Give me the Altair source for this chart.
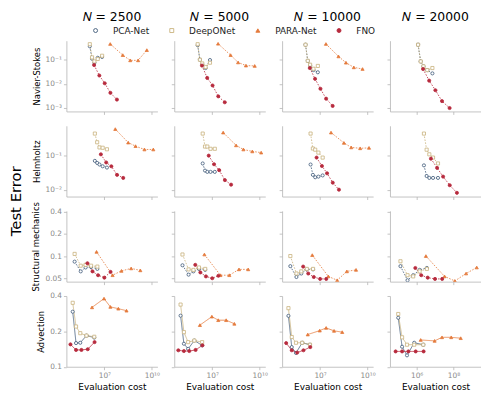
import altair as alt
import pandas as pd

problems = ["Navier-Stokes", "Helmholtz", "Structural mechanics", "Advection"]
sizes = [2500, 5000, 10000, 20000]
models = ["PCA-Net", "DeepONet", "PARA-Net", "FNO"]
colors = ["#3d5877", "#c9b27c", "#e47a3c", "#b72a3d"]
fills = ["#ffffff", "#ffffff", "#e47a3c", "#b72a3d"]
shapes = ["circle", "square", "triangle-up", "circle"]

# evaluation cost of each network size (same for every training-set size)
cost = {
    "Navier-Stokes": {
        "PCA-Net": [1.2e6, 1.66e6, 2.34e6, 3.8e6, 7.2e6],
        "DeepONet": [1.2e6, 1.66e6, 2.34e6, 3.8e6, 7.2e6],
        "PARA-Net": [2.34e7, 1.45e8, 4.3e8, 1.35e9, 4.8e9],
        "FNO": [2.24e6, 4.8e6, 1.05e7, 2.4e7, 6.2e7],
    },
    "Helmholtz": {
        "PCA-Net": [2.5e6, 3.5e6, 4.9e6, 7.8e6, 1.45e7],
        "DeepONet": [2.5e6, 3.5e6, 4.9e6, 7.8e6, 1.45e7],
        "PARA-Net": [4.9e7, 3.2e8, 9.3e8, 3.4e9, 1.23e10],
        "FNO": [6.0e6, 1.3e7, 2.75e7, 6.3e7, 1.55e8],
    },
    "Structural mechanics": {
        "PCA-Net": [1.32e5, 3.2e5, 6.5e5, 1.45e6, 3.6e6],
        "DeepONet": [1.32e5, 3.2e5, 6.5e5, 1.45e6, 3.6e6],
        "PARA-Net": [3.2e6, 3.3e7, 1.2e8, 4.9e8, 1.86e9],
        "FNO": [8.5e5, 1.78e6, 4.0e6, 1.0e7, 2.45e7],
    },
    "Advection": {
        "PCA-Net": [1.0e5, 1.62e5, 3.0e5, 7.4e5, 2.3e6],
        "DeepONet": [1.0e5, 1.62e5, 3.0e5, 7.4e5, 2.3e6],
        "PARA-Net": [1.66e6, 9.5e6, 2.4e7, 7.6e7, 2.5e8],
        "FNO": [7.2e4, 1.62e5, 3.55e5, 8.9e5, 2.4e6],
    },
}

# test error, one list per training-set size N = 2500, 5000, 10000, 20000
error = {
    "Navier-Stokes": {
        "PCA-Net": [[0.36, 0.11, 0.075, 0.12, 0.13], [0.40, 0.10, 0.065, 0.045, 0.097],
                    [0.42, 0.09, 0.057, 0.037, 0.030], [0.42, 0.085, 0.053, 0.037, 0.027]],
        "DeepONet": [[0.44, 0.125, 0.085, 0.107, 0.146], [0.44, 0.10, 0.07, 0.05, 0.075],
                     [0.42, 0.09, 0.062, 0.042, 0.055], [0.42, 0.085, 0.053, 0.037, 0.045]],
        "PARA-Net": [[0.45, 0.155, 0.094, 0.094, 0.25], [0.46, 0.155, 0.077, 0.057, 0.055],
                     [0.45, 0.137, 0.075, 0.048, 0.041], None],
        "FNO": [[0.06, 0.022, 0.0105, 0.0042, 0.0022], [0.057, 0.0175, 0.0085, 0.003, 0.0017],
                [0.045, 0.016, 0.0062, 0.0024, 0.0012], [0.041, 0.0135, 0.0054, 0.0019, 0.00098]],
    },
    "Helmholtz": {
        "PCA-Net": [[0.069, 0.06, 0.054, 0.048, 0.044], [0.058, 0.036, 0.033, 0.033, 0.033],
                    [0.054, 0.027, 0.023, 0.024, 0.026], [0.051, 0.025, 0.022, 0.022, 0.022]],
        "DeepONet": [[0.43, 0.24, 0.17, 0.166, 0.15], [0.43, 0.18, 0.18, 0.155, 0.155],
                     [0.43, 0.158, 0.146, 0.12, 0.086], [0.43, 0.146, 0.107, 0.086, 0.058]],
        "PARA-Net": [[0.58, 0.235, 0.185, 0.148, 0.148], [0.46, 0.195, 0.148, 0.13, 0.12],
                     [0.46, 0.23, 0.17, 0.16, 0.165], None],
        "FNO": [[0.107, 0.062, 0.048, 0.027, 0.022], [0.098, 0.055, 0.037, 0.019, 0.014],
                [0.086, 0.049, 0.03, 0.016, 0.01], [0.08, 0.043, 0.024, 0.0135, 0.0081]],
    },
    "Structural mechanics": {
        "PCA-Net": [[0.084, 0.062, 0.07, 0.071, 0.067], [0.075, 0.056, 0.062, 0.067, 0.065],
                    [0.073, 0.052, 0.058, 0.066, 0.066], [0.073, 0.047, 0.055, 0.065, 0.069]],
        "DeepONet": [[0.107, 0.074, 0.076, 0.074, 0.072], [0.105, 0.066, 0.065, 0.07, 0.067],
                     [0.1, 0.058, 0.062, 0.067, 0.067], [0.085, 0.055, 0.053, 0.062, 0.067]],
        "PARA-Net": [[0.114, 0.055, 0.063, 0.068, 0.064], [0.105, 0.055, 0.055, 0.066, 0.066],
                     [0.103, 0.053, 0.047, 0.062, 0.065], [0.1, 0.053, 0.046, 0.058, 0.07]],
        "FNO": [[0.08, 0.062, 0.055, 0.051, 0.061], [0.076, 0.06, 0.053, 0.05, 0.054],
                [0.072, 0.058, 0.052, 0.049, 0.049], [0.069, 0.055, 0.051, 0.049, 0.049]],
    },
    "Advection": {
        "PCA-Net": [[0.294, 0.159, 0.16, 0.184, 0.177], [0.272, 0.157, 0.142, 0.167, 0.152],
                    [0.271, 0.147, 0.131, 0.16, 0.154], [0.261, 0.148, 0.125, 0.16, 0.154]],
        "DeepONet": [[0.35, 0.22, 0.193, 0.184, 0.18], [0.338, 0.197, 0.162, 0.167, 0.162],
                     [0.315, 0.179, 0.16, 0.16, 0.154], [0.281, 0.178, 0.154, 0.154, 0.154]],
        "PARA-Net": [[0.32, 0.38, 0.323, 0.312, 0.3], [0.226, 0.267, 0.249, 0.249, 0.232],
                     [0.188, 0.203, 0.214, 0.202, 0.197], [0.169, 0.166, 0.178, 0.178, 0.175]],
        "FNO": [[0.155, 0.139, 0.139, 0.141, 0.162], [0.138, 0.136, 0.136, 0.139, 0.152],
                [0.159, 0.138, 0.132, 0.138, 0.147], [0.135, 0.135, 0.135, 0.135, 0.135]],
    },
}

rows = []
for p in problems:
    for m in models:
        for j, n in enumerate(sizes):
            errs = error[p][m][j]
            if errs is None:
                continue
            for k, (c, e) in enumerate(zip(cost[p][m], errs)):
                rows.append({"problem": p, "N": n, "model": m, "cost": c, "error": e, "k": k})
df = pd.DataFrame(rows)

x_domains = [[10 ** 4.6, 10 ** 10.35]] * 3 + [[10 ** 4.55, 10 ** 9.5]]
x_ticks = [[1e7, 1e10]] * 3 + [[1e6, 1e8]]
x_labels = [["10⁷", "10¹⁰"]] * 3 + [["10⁶", "10⁸"]]
y_domains = [[10 ** -3.15, 10 ** -0.21], [10 ** -2.2, 10 ** -0.14], [0.045, 0.41], [0.1, 0.4]]
y_ticks = [[1e-3, 1e-2, 1e-1], [1e-2, 1e-1], [0.05, 0.1, 0.2, 0.4], [0.1, 0.2, 0.4]]
y_labels = [["10⁻³", "10⁻²", "10⁻¹"], ["10⁻²", "10⁻¹"], ["0.05", "0.1", "0.2", "0.4"], ["0.1", "0.2", "0.4"]]
dashes = [[1.6, 1.4], [1.6, 1.4], [1.6, 1.4], [1, 0]]


def label_expr(vals, labs):
    s = "''"
    for v, l in reversed(list(zip(vals, labs))):
        s = f"(abs(datum.value/{v!r}-1)<1e-6) ? '{l}' : {s}"
    return s


stroke_enc = alt.Stroke("model:N", scale=alt.Scale(domain=models, range=colors),
                        legend=alt.Legend(title=None))
fill_enc = alt.Fill("model:N", scale=alt.Scale(domain=models, range=fills),
                    legend=alt.Legend(title=None))
shape_enc = alt.Shape("model:N", scale=alt.Scale(domain=models, range=shapes),
                      legend=alt.Legend(title=None))

panels = []
for i, p in enumerate(problems):
    for j, n in enumerate(sizes):
        sub = df[(df.problem == p) & (df.N == n)]
        x = alt.X("cost:Q",
                  scale=alt.Scale(type="log", domain=x_domains[j], nice=False),
                  axis=alt.Axis(values=x_ticks[j], labels=(i == 3),
                                labelExpr=label_expr(x_ticks[j], x_labels[j]),
                                title="Evaluation cost" if i == 3 else None))
        y = alt.Y("error:Q",
                  scale=alt.Scale(type="log", domain=y_domains[i], nice=False),
                  axis=alt.Axis(values=y_ticks[i], labels=(j == 0),
                                labelExpr=label_expr(y_ticks[i], y_labels[i]),
                                title=p if j == 0 else None))
        base = alt.Chart(sub)
        line = base.mark_line(strokeWidth=0.8, strokeDash=dashes[i], clip=True).encode(
            x=x, y=y, stroke=stroke_enc, order="k:Q")
        pts = base.mark_point(filled=True, size=10, strokeWidth=0.8, opacity=1, clip=True).encode(
            x=x, y=y, stroke=stroke_enc, fill=fill_enc, shape=shape_enc)
        ch = alt.layer(line, pts).properties(width=92, height=71.5)
        if i == 0:
            ch = ch.properties(title=alt.TitleParams(f"𝑁 = {n}", fontWeight=400))
        panels.append(ch)

chart = alt.concat(
    *panels, columns=4, spacing=alt.RowColnumber(row=14, column=17), align="each",
    bounds="flush",
).properties(
    title=alt.TitleParams("Test Error", orient="left", anchor="middle", fontSize=15,
                          fontWeight="normal", font="DejaVu Sans", color="black", offset=8),
    padding={"left": 1, "top": 1, "right": 0, "bottom": 0},
).configure_view(stroke=None).configure_axis(
    domainColor="#b4b4b4", tickColor="#b4b4b4", labelColor="#8a8a8a", labelFontSize=7.5,
    tickSize=3, grid=False, labelFont="DejaVu Sans", titleFont="DejaVu Sans",
    titleFontWeight="normal", titleFontSize=8.5, titleColor="black", domainWidth=0.8,
    tickWidth=0.8, labelPadding=2, titlePadding=4,
).configure_axisX(titleFontSize=9, titlePadding=3).configure_title(
    font="DejaVu Sans", fontWeight="normal", fontSize=12.5, offset=17, color="black"
).configure_legend(
    orient="none", legendX=25, legendY=-15, direction="horizontal", labelFontSize=9,
    labelFont="DejaVu Sans", labelColor="#222", symbolSize=16, symbolStrokeWidth=0.9,
    columnPadding=18, labelOffset=13, gridAlign="each", columns=4,
)

chart.save("out.html", embed_options={"renderer": "svg", "actions": False})
